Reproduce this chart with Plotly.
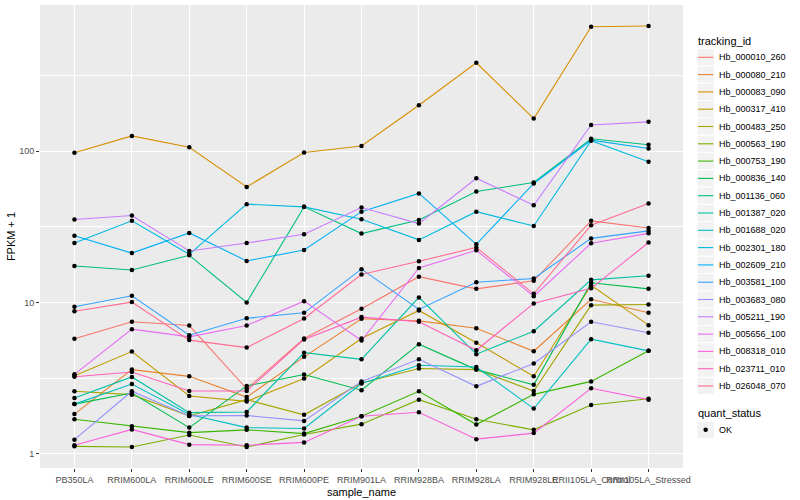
import math
import plotly.graph_objects as go

# ---- data (FPKM + 1) ----
samples = ["PB350LA", "RRIM600LA", "RRIM600LE", "RRIM600SE", "RRIM600PE", "RRIM901LA",
           "RRIM928BA", "RRIM928LA", "RRIM928LE", "RRII105LA_Control", "RRII105LA_Stressed"]

tracking_ids = ["Hb_000010_260", "Hb_000080_210", "Hb_000083_090", "Hb_000317_410",
                "Hb_000483_250", "Hb_000563_190", "Hb_000753_190", "Hb_000836_140",
                "Hb_001136_060", "Hb_001387_020", "Hb_001688_020", "Hb_002301_180",
                "Hb_002609_210", "Hb_003581_100", "Hb_003683_080", "Hb_005211_190",
                "Hb_005656_100", "Hb_008318_010", "Hb_023711_010", "Hb_026048_070"]

hb_000010_260 = [5.75, 7.45, 7.04, 2.69, 5.78, 9.08, 14.8, 12.3, 13.9, 34.6, 31.0]
hb_000080_210 = [1.83, 3.60, 3.25, 2.37, 4.37, 7.8, 7.56, 6.76, 4.76, 10.5, 8.54]
hb_000083_090 = [97.5, 126, 106, 58, 98, 108, 201, 383, 164, 663, 670]
hb_000317_410 = [3.28, 4.74, 2.41, 2.22, 3.15, 5.78, 8.85, 5.41, 3.25, 13.0, 7.08]
hb_000483_250 = [2.59, 2.46, 1.78, 2.28, 1.81, 2.94, 3.66, 3.6, 2.60, 9.6, 9.7]
hb_000563_190 = [1.12, 1.11, 1.33, 1.11, 1.34, 1.57, 2.28, 1.69, 1.44, 2.10, 2.31]
hb_000753_190 = [1.69, 1.52, 1.38, 1.44, 1.36, 1.77, 2.59, 1.56, 2.47, 3.01, 4.79]
hb_000836_140 = [2.13, 2.52, 1.49, 2.81, 3.34, 2.63, 5.30, 3.6, 2.86, 13.5, 12.3]
hb_001136_060 = [17.4, 16.4, 20.5, 10.0, 42.8, 28.5, 35.1, 54.1, 62.0, 120.7, 110]
hb_001387_020 = [2.34, 3.22, 1.87, 1.89, 4.66, 4.21, 10.8, 4.55, 6.46, 14.1, 15.0]
hb_001688_020 = [2.13, 2.89, 1.82, 1.49, 1.47, 2.91, 3.85, 3.75, 1.99, 5.72, 4.79]
hb_002301_180 = [24.7, 34.6, 20.8, 44.6, 42.8, 35.5, 25.9, 39.8, 32.0, 117, 85]
hb_002609_210 = [27.6, 21.2, 28.8, 18.8, 22.2, 39.8, 52.5, 24.2, 61.1, 118, 104]
hb_003581_100 = [9.36, 11.07, 6.08, 7.87, 8.54, 16.6, 9.0, 13.6, 14.4, 26.5, 29.7]
hb_003683_080 = [1.24, 2.59, 1.78, 1.79, 1.65, 3.01, 4.21, 2.79, 3.95, 7.45, 6.30]
hb_005211_190 = [35.3, 37.5, 21.9, 24.7, 28.2, 42.4, 33.2, 66.2, 43.9, 148.6, 156]
hb_005656_100 = [3.35, 6.66, 5.92, 7.05, 10.2, 5.6, 16.9, 22.1, 11.0, 24.6, 28.6]
hb_008318_010 = [1.14, 1.45, 1.15, 1.14, 1.19, 1.77, 1.88, 1.25, 1.37, 2.71, 2.28]
hb_023711_010 = [3.23, 3.47, 2.60, 2.60, 5.70, 8.0, 7.45, 4.83, 9.85, 12.4, 24.9]
hb_026048_070 = [8.75, 10.05, 5.64, 5.03, 7.83, 15.3, 18.7, 23.1, 11.4, 32.4, 45.0]

series_values = [hb_000010_260, hb_000080_210, hb_000083_090, hb_000317_410, hb_000483_250,
                 hb_000563_190, hb_000753_190, hb_000836_140, hb_001136_060, hb_001387_020,
                 hb_001688_020, hb_002301_180, hb_002609_210, hb_003581_100, hb_003683_080,
                 hb_005211_190, hb_005656_100, hb_008318_010, hb_023711_010, hb_026048_070]

quant_status = "OK"

y_tick_vals = [1, 10, 100]
y_tick_text = ["1", "10", "100"]

# ggplot2 default hue palette for 20 levels
colors = ["#F8766D", "#EA8331", "#D89000", "#C09B00", "#A3A500", "#7CAE00", "#39B600",
          "#00BB4E", "#00BF7D", "#00C1A3", "#00BFC4", "#00BAE0", "#00B0F6", "#35A2FF",
          "#9590FF", "#C77CFF", "#E76BF3", "#FA62DB", "#FF62BC", "#FF6C91"]

FONT = "Liberation Sans, Arial, sans-serif"
W, H = 800, 500
ML, MR, MT, MB = 40, 117, 5, 32
PW, PH = W - ML - MR, H - MT - MB


def px_x(px):
    return (px - ML) / PW


def px_y(py):
    return (H - MB - py) / PH


fig = go.Figure()
for tid, col, vals in zip(tracking_ids, colors, series_values):
    fig.add_trace(go.Scatter(x=samples, y=vals, mode="lines", name=tid,
                             line=dict(color=col, width=1.1), showlegend=False,
                             hoverinfo="skip"))

pts_x = [s for vals in series_values for s in samples]
pts_y = [v for vals in series_values for v in vals]
fig.add_trace(go.Scatter(x=pts_x, y=pts_y, mode="markers", name=quant_status,
                         marker=dict(color="black", size=4.5, symbol="circle",
                                     line=dict(width=0)),
                         showlegend=False))

all_vals = [v for vals in series_values for v in vals]
lo, hi = math.log10(min(all_vals)), math.log10(max(all_vals))
pad = 0.05 * (hi - lo)

# ---- ggplot-style legends (layout decoration built from the id list) ----
shapes, annotations = [], []
KEY_L, KEY_R, KEY_H = 697.0, 714.3, 17.3
TEXT_X = 717.0
first_center = 57.3


def legend_title(text, cy):
    annotations.append(dict(x=px_x(696), y=px_y(cy), xref="paper", yref="paper",
                            text=text, showarrow=False, xanchor="left", yanchor="middle",
                            font=dict(size=11, color="black")))


def key_box(cy):
    shapes.append(dict(type="rect", xref="paper", yref="paper",
                       x0=px_x(KEY_L), x1=px_x(KEY_R),
                       y0=px_y(cy + KEY_H / 2), y1=px_y(cy - KEY_H / 2),
                       fillcolor="#F2F2F2", line=dict(color="white", width=1), layer="below"))


def key_text(text, cy):
    annotations.append(dict(x=px_x(TEXT_X), y=px_y(cy), xref="paper", yref="paper",
                            text=text, showarrow=False, xanchor="left", yanchor="middle",
                            font=dict(size=9, color="black")))


legend_title("tracking_id", 40.7)
for i, (tid, col) in enumerate(zip(tracking_ids, colors)):
    cy = first_center + i * KEY_H
    key_box(cy)
    shapes.append(dict(type="line", xref="paper", yref="paper",
                       x0=px_x(KEY_L + 1), x1=px_x(KEY_R - 1),
                       y0=px_y(cy), y1=px_y(cy), line=dict(color=col, width=1.1)))
    key_text(tid, cy)

q_title = first_center + (len(tracking_ids) - 1) * KEY_H + 27
legend_title("quant_status", q_title)
ok_cy = q_title + 16.8
key_box(ok_cy)
r = 2.25
cx = (KEY_L + KEY_R) / 2
shapes.append(dict(type="circle", xref="paper", yref="paper",
                   x0=px_x(cx - r), x1=px_x(cx + r), y0=px_y(ok_cy + r), y1=px_y(ok_cy - r),
                   fillcolor="black", line=dict(width=0)))
key_text(quant_status, ok_cy)

fig.update_layout(
    width=W, height=H,
    margin=dict(l=ML, r=MR, t=MT, b=MB),
    paper_bgcolor="white", plot_bgcolor="#EBEBEB",
    font=dict(family=FONT, size=11, color="black"),
    showlegend=False,
    xaxis=dict(type="category", range=[-0.6, len(samples) - 0.4],
               showgrid=True, gridcolor="white", gridwidth=1.1,
               ticks="outside", ticklen=3, tickcolor="#333333", tickwidth=1,
               tickangle=0, tickfont=dict(size=9, color="#4D4D4D"),
               title=dict(text="sample_name", font=dict(size=11), standoff=4),
               zeroline=False, showline=False, automargin=False),
    yaxis=dict(type="log", range=[lo - pad, hi + pad],
               tickvals=y_tick_vals, ticktext=y_tick_text,
               showgrid=True, gridcolor="white", gridwidth=1.1,
               minor=dict(tickvals=[10 ** 0.5, 10 ** 1.5, 10 ** 2.5], showgrid=True,
                          gridcolor="white", gridwidth=0.55, ticks=""),
               ticks="outside", ticklen=3, tickcolor="#333333", tickwidth=1,
               tickfont=dict(size=9, color="#4D4D4D"),
               title=dict(text="FPKM + 1", font=dict(size=11), standoff=1),
               zeroline=False, showline=False, automargin=False),
    shapes=shapes,
    annotations=annotations,
)

fig.write_html("out.html", config={"displayModeBar": False},
               post_script="document.body.style.margin='0';")
